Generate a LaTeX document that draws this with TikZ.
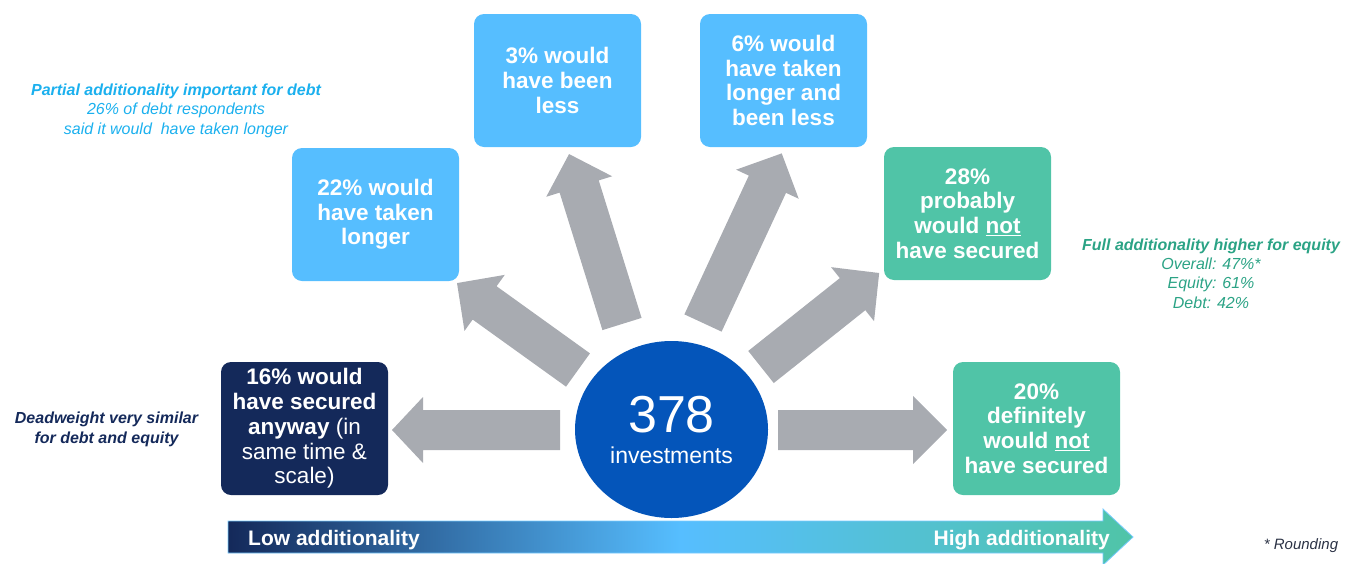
\documentclass[tikz,border=0pt]{standalone}
\usepackage{fontspec}
\setmainfont{Liberation Sans}
\usetikzlibrary{shapes.geometric}
\definecolor{lblue}{HTML}{56BEFF}
\definecolor{tgreen}{HTML}{50C4A7}
\definecolor{navy}{HTML}{14295A}
\definecolor{circblue}{HTML}{0455BA}
\definecolor{arrgray}{HTML}{A8ABB1}
\definecolor{sideblue}{HTML}{1BB0EE}
\definecolor{sidegreen}{HTML}{2BA385}
\definecolor{notegray}{HTML}{2B3245}
\newcommand{\fatarr}[6]{%
  \fill[arrgray, shift={(#1)}, rotate=#2]
    (0,-#6) -- ({#3-#4},-#6) -- ({#3-#4},-#5) -- (#3,0) -- ({#3-#4},#5)
    -- ({#3-#4},#6) -- (0,#6) -- cycle;}
\tikzset{
  box/.style={rounded corners=10pt, minimum width=167pt, minimum height=133pt,
    text=white, align=center, inner sep=0pt,
    font=\fontsize{22.5}{24.7}\selectfont\bfseries},
  lightbox/.style={box, fill=lblue},
  greenbox/.style={box, fill=tgreen},
  navybox/.style={box, fill=navy},
  sidenote/.style={align=center, inner sep=0pt,
    font=\fontsize{16}{19.5}\selectfont\itshape},
  bartext/.style={text=white, inner sep=0pt,
    font=\fontsize{21}{24}\selectfont\bfseries}
}
\begin{document}
\begin{tikzpicture}[x=1pt,y=-1pt]
\useasboundingbox (0,0) rectangle (1347,563);

% fat arrows
\fatarr{622,324}{107.3}{178}{34}{34.5}{20.5}
\fatarr{703,323}{65.1}{187}{34}{34.5}{20.5}
\fatarr{578,370}{144.3}{149}{34}{34.5}{20.5}
\fatarr{761,367}{38.5}{151}{34}{34.5}{20.5}
\fatarr{560,430}{180}{168}{31}{33}{20}
\fatarr{778,430}{0}{169}{34}{34}{20}

% boxes
\node[lightbox] (b22) at (375.5,214.5) {22\% would\\have taken\\longer};
\node[lightbox] (b3) at (557.5,80.5) {3\% would\\have been\\less};
\node[lightbox] (b6) at (783.5,80.5) {6\% would\\have taken\\longer and\\been less};
\node[greenbox] (b28) at (967.5,213.5) {28\%\\probably\\would \underline{not}\\have secured};
\node[navybox] (b16) at (304.5,428.5) {16\% would\\have secured\\anyway {\mdseries (in}\\{\mdseries same time \&}\\{\mdseries scale)}};
\node[greenbox] (b20) at (1036.5,428.5) {20\%\\definitely\\would \underline{not}\\have secured};

% centre
\node[ellipse, fill=circblue, minimum width=193pt, minimum height=177pt, inner sep=0pt] (c) at (671.5,429.5) {};
\node[anchor=base, text=white, inner sep=0pt, font=\fontsize{52}{56}\selectfont] (n378) at (671.5,432) {378};
\node[anchor=base, text=white, inner sep=0pt, font=\fontsize{23}{26}\selectfont] (inv) at (671.5,463) {investments};

% side notes
\node[sidenote, text=sideblue] (partial) at (176,110.4)
  {\textbf{Partial additionality important for debt}\\26\% of debt respondents\\said it would\ \ have taken longer};
\node[sidenote, text=sidegreen, font=\fontsize{16}{19.3}\selectfont\itshape] (full) at (1211,273.4)
  {\textbf{Full additionality higher for equity}\\Overall: 47\%*\\Equity: 61\%\\Debt: 42\%};
\node[sidenote, text=navy, font=\fontsize{16}{20}\selectfont\itshape\bfseries] (dead) at (106.5,428.9)
  {Deadweight very similar\\for debt and equity};
\node[anchor=base, inner sep=0pt, text=notegray, font=\fontsize{15}{18}\selectfont\itshape] (round) at (1301,549) {* Rounding};

% gradient bar
\shade[left color=navy, right color=tgreen, middle color=lblue, draw=lblue!80, line width=0.8pt]
  (228,521) -- (1103,521) -- (1103,509) -- (1133,537) -- (1103,565) -- (1103,553) -- (228,553) -- cycle;
\node[bartext, anchor=base west] (low) at (248,545) {Low additionality};
\node[bartext, anchor=base east] (high) at (1110,545) {High additionality};
\end{tikzpicture}
\end{document}
